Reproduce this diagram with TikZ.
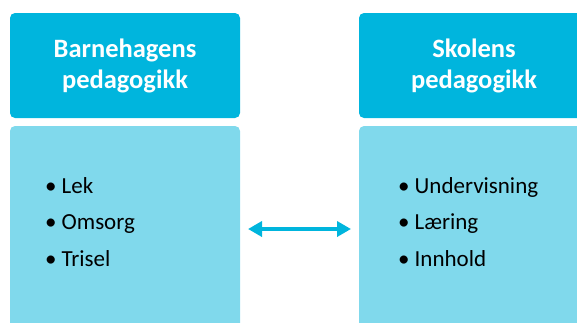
\documentclass[tikz,border=0pt]{standalone}
\usepackage{fontspec}
\setmainfont{Carlito}
\usetikzlibrary{arrows.meta}
\definecolor{headblue}{HTML}{00B5DD}
\definecolor{bodyblue}{HTML}{80D9EC}
\newcommand\BW{230}

\begin{document}
\begin{tikzpicture}[x=1pt,y=-1pt]

  \tikzstyle{every node}=[inner sep=0pt,outer sep=0pt]
  \tikzstyle{head}=[rectangle,rounded corners=5pt,fill=headblue,text=white,align=center,
                    minimum width=\BW pt,minimum height=105pt,
                    font=\fontsize{26.5}{31}\selectfont\bfseries]
  \tikzstyle{body}=[rectangle,rounded corners=5pt,fill=bodyblue,
                    minimum width=\BW pt,minimum height=206pt]
  \tikzstyle{item}=[anchor=base west,font=\fontsize{23}{28}\selectfont]
  \tikzstyle{biarrow}=[{Triangle[length=14pt,width=15pt]}-{Triangle[length=14pt,width=15pt]},
                       draw=headblue,line width=4.5pt,shorten >=8pt,shorten <=8pt]

  \clip (0,0) rectangle (577,322);

  \node[head] (bhhead) at (125,65.5) {Barnehagens\\pedagogikk};
  \node[head] (skhead) at (474,65.5) {Skolens\\pedagogikk};
  \node[body] (bhbody) at (125,229)  {};
  \node[body] (skbody) at (474,229)  {};

  \foreach \t [count=\i] in {Lek,Omsorg,Trisel}
    \node[item] (bh\i) at (45,{193+36.5*(\i-1)}) {• \t};
  \foreach \t [count=\i] in {Undervisning,Læring,Innhold}
    \node[item] (sk\i) at (398,{193+36.5*(\i-1)}) {• \t};

  \draw[biarrow] (bhbody) -- (skbody);
\end{tikzpicture}
\end{document}
